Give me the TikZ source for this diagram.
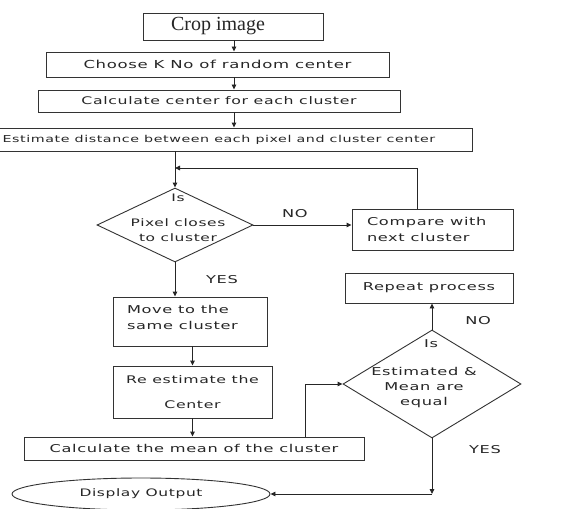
\documentclass[tikz,border=0pt]{standalone}
\usepackage{fontspec}
\newfontfamily\bx[FakeStretch=1.5, LetterSpace=6]{DejaVu Sans}
\newfontfamily\sr{Liberation Serif}
\usetikzlibrary{arrows.meta,shapes.geometric}
\begin{document}
\begin{tikzpicture}[x=1pt,y=-1pt,
  fs/.style={font=\bx\fontsize{#1}{16}\selectfont},
  box/.style={draw=black!80, line width=0.9pt, inner sep=0pt, text=black!85, fs=10.8},
  dia/.style={draw=black!80, line width=0.9pt, diamond, inner sep=0pt},
  ell/.style={draw=black!80, line width=0.9pt, ellipse, inner sep=0pt, text=black!85, fs=10.3},
  lbl/.style={inner sep=0pt, text=black!85, fs=10.8},
  ln/.style={draw=black!85, line width=0.9pt},
  arr/.style={ln, -{Triangle[length=5pt,width=4.5pt]}}
]
\path[use as bounding box, fill=white] (0,0) rectangle (569,508);

\node[box, minimum width=180pt, minimum height=27pt, font=\sr\fontsize{20}{24}\selectfont] (crop) at (233,26.5) {\hspace*{-30pt}Crop image};
\node[box, minimum width=343pt, minimum height=25pt, fs=11] (choose) at (217.5,64.5) {Choose K No of random center};
\node[box, minimum width=362pt, minimum height=22pt, fs=10.5] (calc) at (219,101) {Calculate center for each cluster};
\node[box, minimum width=506pt, minimum height=23pt, fs=9.5] (est) at (219,139.5) {Estimate distance between each pixel and cluster center};

\node[dia, minimum width=156pt, minimum height=74pt] (d1) at (175,225) {};
\node[lbl, fs=10.3] (d1a) at (178,198) {Is};
\node[lbl, align=center, font=\bx\fontsize{10.3}{15}\selectfont] (d1b) at (178,230.5) {Pixel closes\\to cluster};

\node[box, minimum width=161pt, minimum height=41pt, align=left] (cmp) at (432.5,229.5) {\makebox[131pt][l]{Compare with}\\\makebox[131pt][l]{next cluster}};
\node[box, minimum width=154pt, minimum height=49pt, align=left] (move) at (190,321.5) {\makebox[126pt][l]{Move to the}\\\makebox[126pt][l]{same cluster}\\[-8pt]\mbox{}};
\node[box, minimum width=159pt, minimum height=52pt, align=center, font=\bx\fontsize{10.5}{25}\selectfont] (reest) at (192.5,392) {Re estimate the\\Center};
\node[box, minimum width=340pt, minimum height=23pt] (mean) at (194,448.5) {Calculate the mean of the cluster};

\node[dia, minimum width=178pt, minimum height=108pt] (d2) at (432,384) {};
\node[lbl] (d2a) at (431,344) {Is};
\node[lbl, align=center, font=\bx\fontsize{10.8}{15}\selectfont] (d2b) at (424,388) {Estimated \&\\Mean are\\equal};

\node[box, minimum width=168pt, minimum height=30pt] (rep) at (429,288) {Repeat process};
\node[ell, minimum width=258pt, minimum height=32pt] (disp) at (141,494) {Display Output};

\node[lbl] (no1) at (295,214) {NO};
\node[lbl] (yes1) at (222,280) {YES};
\node[lbl] (no2) at (478,321) {NO};
\node[lbl] (yes2) at (485,450) {YES};

\coordinate (ax) at (234,0);
\coordinate (lx) at (417,168);
\coordinate (lp) at (175,168);
\coordinate (mx) at (305,384);
\coordinate (cn) at (432,494);

\draw[arr] (crop.south -| ax) -- (choose.north -| ax);
\draw[arr] (choose.south -| ax) -- (calc.north -| ax);
\draw[arr] (calc.south -| ax) -- (est.north -| ax);
\draw[arr] (est.south -| d1.north) -- (d1.north);
\draw[arr] (cmp.north -| lx) -- (lx) -- (lp);
\draw[arr] (d1.east) -- (d1.east -| cmp.west);
\draw[arr] (d1.south) -- (d1.south |- move.north);
\draw[arr] (move.south -| reest.south) -- (reest.north);
\draw[arr] (reest.south) -- (reest.south |- mean.north);
\draw[arr] (mean.north -| mx) |- (d2.west);
\draw[arr] (d2.north) -- (d2.north |- rep.south);
\draw[arr] (d2.south) -- (cn);
\draw[arr] (cn) -- (disp.east);
\end{tikzpicture}
\end{document}
